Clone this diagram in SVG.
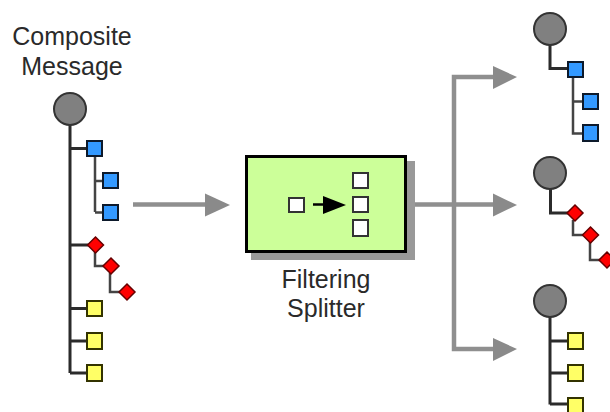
<svg xmlns="http://www.w3.org/2000/svg" width="610" height="412" viewBox="0 0 610 412">
<style>
.lbl{font-family:"Liberation Sans",Arial,sans-serif;font-size:25px;fill:#2a2a2a;text-anchor:middle}
.root{fill:#808080;stroke:#333;stroke-width:2}
.trunk{stroke:#2b2b2b;stroke-width:3;fill:none}
.br{stroke:#444;stroke-width:2.5;fill:none}
.blue{fill:#3399ff;stroke:#0d1a2b;stroke-width:2}
.yel{fill:#ffff66;stroke:#333300;stroke-width:2}
.red{fill:#ff0000;stroke:#660000;stroke-width:1.5}
.flow{stroke:#8f8f8f;stroke-width:4.5;fill:none}
.head{fill:#8a8a8a}
.cell{fill:#fff;stroke:#333;stroke-width:2}
</style>
<rect width="610" height="412" fill="#fff"/>

<g id="composite-message">
  <text class="lbl" x="72" y="45">Composite</text>
  <text class="lbl" x="72" y="75">Message</text>
  <path class="trunk" d="M70 125V373M70 148.5H87M70 245H88M70 308.5H87M70 341H87M70 373H87"/>
  <path class="br" d="M95 157V212M95 181H103M95 212.5H103M95 252V266H104M110 273V292H120"/>
  <circle class="root" cx="70" cy="109" r="16"/>
  <rect class="blue" x="87" y="141" width="15" height="15"/>
  <rect class="blue" x="103" y="173" width="15" height="15"/>
  <rect class="blue" x="103" y="205" width="15" height="15"/>
  <polygon class="red" points="95.5,237 103.5,245 95.5,253 87.5,245"/>
  <polygon class="red" points="111,258 119,266 111,274 103,266"/>
  <polygon class="red" points="127,284 135,292 127,300 119,292"/>
  <rect class="yel" x="87" y="301" width="15" height="15"/>
  <rect class="yel" x="87" y="333" width="15" height="16"/>
  <rect class="yel" x="87" y="365" width="15" height="16"/>
</g>

<g id="filtering-splitter">
  <rect x="251" y="161" width="164" height="99" fill="#999"/>
  <rect x="246.5" y="156.5" width="159" height="95" fill="#ccff99" stroke="#000" stroke-width="3"/>
  <rect class="cell" x="289" y="198" width="15" height="14"/>
  <line x1="313" y1="204.5" x2="326" y2="204.5" stroke="#000" stroke-width="2.5"/>
  <polygon points="323,196 346,205 323,214" fill="#000"/>
  <rect class="cell" x="353" y="173" width="15" height="15"/>
  <rect class="cell" x="353" y="197" width="15" height="15"/>
  <rect class="cell" x="353" y="220" width="15" height="16"/>
  <text class="lbl" x="326" y="288">Filtering</text>
  <text class="lbl" x="326" y="317">Splitter</text>
</g>

<g id="output-blue">
  <path class="trunk" d="M550 45V68.5H568"/>
  <path class="br" d="M573 77V133.5H583M573 101.5H583"/>
  <circle class="root" cx="550" cy="29" r="16"/>
  <rect class="blue" x="568" y="62" width="15" height="15"/>
  <rect class="blue" x="583" y="94" width="15" height="15"/>
  <rect class="blue" x="583" y="125" width="15" height="16"/>
</g>

<g id="output-red">
  <path class="trunk" d="M550.5 189V213H568"/>
  <path class="br" d="M573 220V235H583M590 242V260H600"/>
  <circle class="root" cx="550" cy="173" r="16"/>
  <polygon class="red" points="575,205 583,213 575,221 567,213"/>
  <polygon class="red" points="590.5,227 598.5,235 590.5,243 582.5,235"/>
  <polygon class="red" points="607,252 615,260 607,268 599,260"/>
</g>

<g id="output-yellow">
  <path class="trunk" d="M550 317V404.5M550 341H568M550 373H568M550 404H568"/>
  <circle class="root" cx="550" cy="301" r="16"/>
  <rect class="yel" x="568" y="333" width="15" height="16"/>
  <rect class="yel" x="568" y="365" width="15" height="16"/>
  <rect class="yel" x="568" y="398" width="15" height="16"/>
</g>

<g id="connectors">
  <path class="flow" d="M133 204.5H207"/>
  <polygon class="head" points="205,193.5 230,205 205,216.5"/>
  <path class="flow" d="M415 204.5H495M495 77H454V349H495"/>
  <polygon class="head" points="493,66 517,77 493,89"/>
  <polygon class="head" points="493,193.5 517,205 493,216.5"/>
  <polygon class="head" points="493,338 517,349 493,361"/>
</g>
</svg>
